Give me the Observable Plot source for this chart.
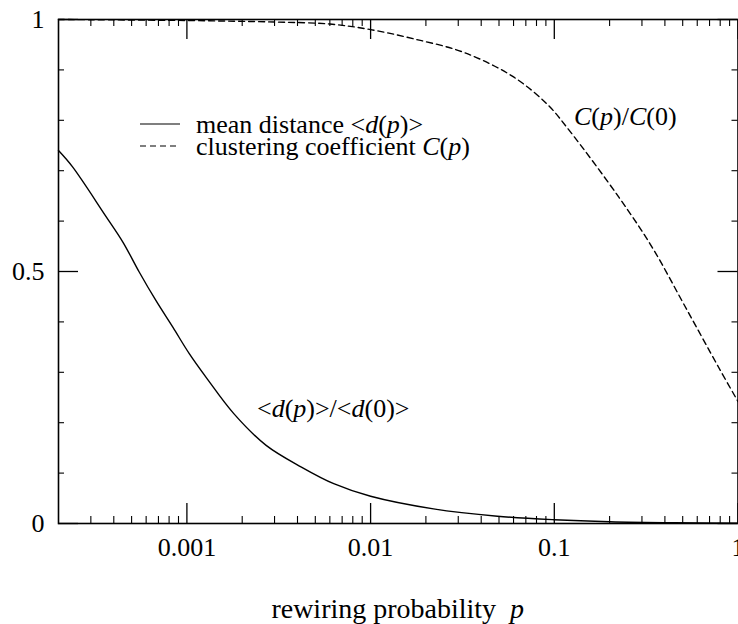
<!DOCTYPE html>
<html>
<head>
<meta charset="utf-8">
<script src="https://cdn.jsdelivr.net/npm/d3@7"></script>
<script src="https://cdn.jsdelivr.net/npm/@observablehq/plot@0.6"></script>
<style>
  html, body { margin: 0; padding: 0; background: #fff; overflow: hidden; }
  #chart { position: relative; width: 738px; height: 624px; overflow: hidden; }
  #chart svg { max-width: none !important; }
</style>
</head>
<body>
<div id="chart"></div>
<script>
// ---- data ----
const distP = [0.0002, 0.000238, 0.00036, 0.000449, 0.00055, 0.000679, 0.00084, 0.00103, 0.00129, 0.0018, 0.0027, 0.0042, 0.0063, 0.01, 0.022, 0.049, 0.1, 0.2, 0.45, 1];
const distV = [0.740, 0.708, 0.611, 0.558, 0.499, 0.442, 0.389, 0.337, 0.287, 0.218, 0.155, 0.112, 0.079, 0.054, 0.029, 0.0145, 0.0075, 0.0035, 0.0015, 0.0008];
const clustP = [0.0002, 0.001, 0.003, 0.006, 0.01, 0.017, 0.032, 0.0594, 0.092, 0.1206, 0.225, 0.341, 0.518, 0.784, 1];
const clustV = [1.0, 0.998, 0.995, 0.991, 0.980, 0.962, 0.935, 0.887, 0.831, 0.780, 0.647, 0.548, 0.429, 0.310, 0.242];
const xMajorTicks = [0.001, 0.01, 0.1, 1];
const xTickLabels = ["0.001", "0.01", "0.1", "1"];
const yMajorTicks = [0, 0.5, 1];
const yTickLabels = ["0", "0.5", "1"];
const yMinorTicks = [0.1, 0.2, 0.3, 0.4, 0.6, 0.7, 0.8, 0.9];
const xMinorTicks = [];
for (const e of [-4, -3, -2, -1]) for (let k = 2; k <= 9; k++) {
  const v = k * Math.pow(10, e);
  if (v > 0.00021 && v < 1) xMinorTicks.push(v);
}
const legendItems = [
  {parts: [["mean distance <", false], ["d", true], ["(", false], ["p", true], [")>", false]], dash: null},
  {parts: [["clustering coefficient ", false], ["C", true], ["(", false], ["p", true], [")", false]], dash: "6,4"}
];
const annotations = [
  {p: 0.245, v: 0.79, parts: [["C", true], ["(", false], ["p", true], [")/", false], ["C", true], ["(0)", false]]},
  {p: 0.0063, v: 0.21, parts: [["<", false], ["d", true], ["(", false], ["p", true], [")>/<", false], ["d", true], ["(0)>", false]]}
];

const distData = distP.map((p, i) => ({p, v: distV[i]}));
const clustData = clustP.map((p, i) => ({p, v: clustV[i]}));

// ---- layout ----
const W = 742, H = 624;
const mL = 58, mR = 4.5, mT = 19, mB = 101;
const plotW = W - mL - mR, plotH = H - mT - mB;
const FONT = "'Liberation Serif', 'Times New Roman', serif";

const chart = Plot.plot({
  width: W, height: H,
  marginLeft: mL, marginRight: mR, marginTop: mT, marginBottom: mB,
  style: {fontFamily: FONT, fontSize: "26px", color: "#000", background: "#fff", overflow: "visible", maxWidth: "none"},
  x: {type: "log", domain: [0.0002, 1]},
  y: {domain: [0, 1]},
  marks: [
    // inward ticks, bottom & top
    Plot.tickX(xMajorTicks, {x: d => d, insetTop: plotH - 20, stroke: "#000", strokeWidth: 1.3}),
    Plot.tickX(xMajorTicks, {x: d => d, insetBottom: plotH - 20, stroke: "#000", strokeWidth: 1.3}),
    Plot.tickX(xMinorTicks, {x: d => d, insetTop: plotH - 7, stroke: "#000", strokeWidth: 1.1}),
    Plot.tickX(xMinorTicks, {x: d => d, insetBottom: plotH - 7, stroke: "#000", strokeWidth: 1.1}),
    // inward ticks, left & right
    Plot.tickY(yMajorTicks, {y: d => d, insetRight: plotW - 20, stroke: "#000", strokeWidth: 1.3}),
    Plot.tickY(yMajorTicks, {y: d => d, insetLeft: plotW - 20, stroke: "#000", strokeWidth: 1.3}),
    Plot.tickY(yMinorTicks, {y: d => d, insetRight: plotW - 6, stroke: "#000", strokeWidth: 1.1}),
    Plot.tickY(yMinorTicks, {y: d => d, insetLeft: plotW - 6, stroke: "#000", strokeWidth: 1.1}),
    Plot.axisX(xMajorTicks, {tickSize: 0, tickPadding: 14.5, tickFormat: d => xTickLabels[xMajorTicks.indexOf(d)], label: null}),
    Plot.axisY(yMajorTicks, {tickSize: 0, tickPadding: 14, tickFormat: d => yTickLabels[yMajorTicks.indexOf(d)], label: null}),
    Plot.line(distData, {x: "p", y: "v", stroke: "#000", strokeWidth: 1.4, curve: "catmull-rom"}),
    Plot.line(clustData, {x: "p", y: "v", stroke: "#000", strokeWidth: 1.4, strokeDasharray: "6,4", curve: "catmull-rom"}),
    Plot.frame({stroke: "#000", strokeWidth: 1.6})
  ]
});
document.getElementById("chart").appendChild(chart);

const svg = d3.select(chart);
const xs = chart.scale("x"), ys = chart.scale("y");

function rich(sel, parts) {
  for (const [s, it] of parts) {
    sel.append("tspan").attr("font-style", it ? "italic" : "normal").text(s);
  }
}

// annotations at data positions
for (const a of annotations) {
  const t = svg.append("text")
    .attr("x", xs.apply(a.p)).attr("y", ys.apply(a.v))
    .attr("text-anchor", "middle")
    .attr("font-family", FONT).attr("font-size", 26).attr("fill", "#000");
  rich(t, a.parts);
}

// legend (inside the frame, top-left)
legendItems.forEach((it, i) => {
  const yLine = 124 + i * 22;
  svg.append("line")
    .attr("x1", 140).attr("x2", 180).attr("y1", yLine).attr("y2", yLine)
    .attr("stroke", "#000").attr("stroke-width", 1.2)
    .attr("stroke-dasharray", it.dash);
  const t = svg.append("text")
    .attr("x", 196).attr("y", yLine + 9)
    .attr("text-anchor", "start")
    .attr("font-family", FONT).attr("font-size", 26).attr("fill", "#000");
  rich(t, it.parts);
});

// x-axis title
const xt = svg.append("text")
  .attr("x", mL + plotW / 2).attr("y", 618)
  .attr("text-anchor", "middle")
  .attr("font-family", FONT).attr("font-size", 28).attr("fill", "#000");
xt.append("tspan").text("rewiring probability\u2002");
xt.append("tspan").attr("font-style", "italic").text("p");
</script>
</body>
</html>
